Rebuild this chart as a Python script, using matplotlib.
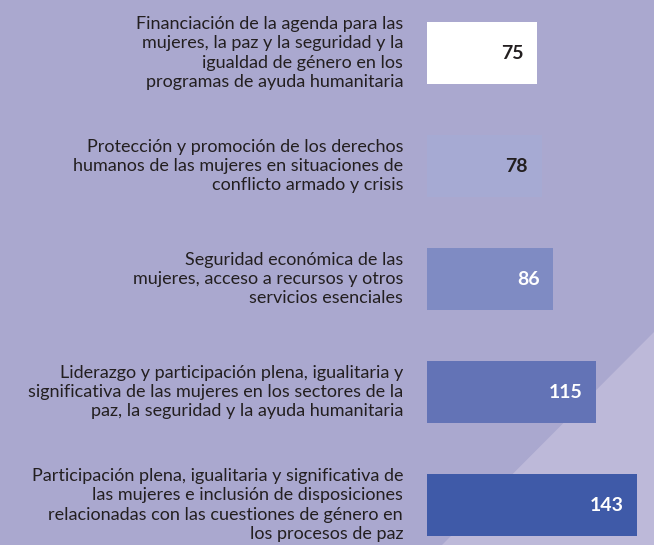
import matplotlib.pyplot as plt
from matplotlib.patches import Polygon

labels = [
    "Financiación de la agenda para las\nmujeres, la paz y la seguridad y la\nigualdad de género en los\nprogramas de ayuda humanitaria",
    "Protección y promoción de los derechos\nhumanos de las mujeres en situaciones de\nconflicto armado y crisis",
    "Seguridad económica de las\nmujeres, acceso a recursos y otros\nservicios esenciales",
    "Liderazgo y participación plena, igualitaria y\nsignificativa de las mujeres en los sectores de la\npaz, la seguridad y la ayuda humanitaria",
    "Participación plena, igualitaria y significativa de\nlas mujeres e inclusión de disposiciones\nrelacionadas con las cuestiones de género en\nlos procesos de paz",
]
values = [75, 78, 86, 115, 143]
bar_colors = ["#ffffff", "#a6aad3", "#7f8bc3", "#6373b6", "#3f5aa8"]
value_colors = ["#231f20", "#231f20", "#ffffff", "#ffffff", "#ffffff"]

bg = "#aaa8cf"
plt.rcParams['font.family'] = ['Lato', 'DejaVu Sans']

fig = plt.figure(figsize=(6.54, 5.45), dpi=100)
fig.patch.set_facecolor(bg)
ax = fig.add_axes([0, 0, 1, 1])
ax.set_facecolor(bg)

# lighter triangle in the lower right corner
ax.add_patch(Polygon([(0.676, 0), (1, 0), (1, 0.391)], closed=True,
                     transform=ax.transAxes, facecolor="#bdb9d9",
                     edgecolor="none", zorder=0))

px = 1.47  # pixels per unit
ax.set_xlim(-427 / px, 227 / px)
ax.set_ylim(4 + (545 - 505) / 113, -53 / 113)

y = range(len(values))
ax.barh(y, values, height=0.55, color=bar_colors, zorder=2)

for i, (lab, v) in enumerate(zip(labels, values)):
    ax.text(-24 / px, i, lab, ha='right', va='center', multialignment='right',
            fontsize=13, color="#231f20", linespacing=1.26)
    ax.text(v - 14 / px, i, str(v), ha='right', va='center',
            fontsize=14, fontweight='bold', color=value_colors[i], zorder=3)

ax.axis('off')
fig.savefig("out.png", dpi=100, facecolor=bg)
